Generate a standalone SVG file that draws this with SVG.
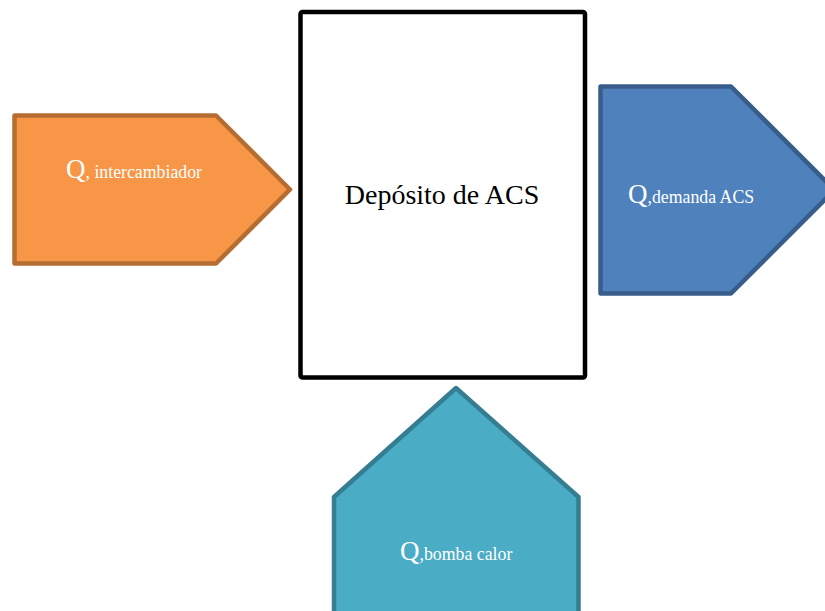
<svg xmlns="http://www.w3.org/2000/svg" width="825" height="611" viewBox="0 0 825 611">
  <style>
    .shape { stroke-width: 4.5; stroke-linejoin: round; }
    .lbl { font-family: "Liberation Serif", "Times New Roman", serif; fill: #ffffff; }
    .big { font-size: 27px; }
    .sub { font-size: 17.8px; }
  </style>
  <rect width="825" height="611" fill="#ffffff"/>

  <!-- storage tank -->
  <g id="deposito">
    <rect x="300.5" y="12" width="284.5" height="365.5" rx="2" fill="#ffffff" stroke="#000000" stroke-width="4.5" stroke-linejoin="round"/>
    <text x="442" y="204" text-anchor="middle" font-family="'Liberation Serif', 'Times New Roman', serif" font-size="28" fill="#000000">Depósito de ACS</text>
  </g>

  <!-- heat exchanger input -->
  <g id="q-intercambiador">
    <polygon class="shape" points="14.5,115.5 216,115.5 290,189.5 216,263.5 14.5,263.5" fill="#F79646" stroke="#B66D31"/>
    <text class="lbl" x="66" y="178"><tspan class="big">Q</tspan><tspan class="sub">, intercambiador</tspan></text>
  </g>

  <!-- DHW demand output -->
  <g id="q-demanda">
    <polygon class="shape" points="600.5,86.5 731,86.5 834.5,190 731,293.5 600.5,293.5" fill="#4F81BD" stroke="#385D8A"/>
    <text class="lbl" x="628" y="203"><tspan class="big">Q</tspan><tspan class="sub">,demanda ACS</tspan></text>
  </g>

  <!-- heat pump input -->
  <g id="q-bomba">
    <polygon class="shape" points="456,388 578.5,497 578.5,640 334,640 334,497" fill="#4BACC6" stroke="#357D91"/>
    <text class="lbl" x="400" y="560"><tspan class="big">Q</tspan><tspan class="sub">,bomba calor</tspan></text>
  </g>
</svg>
